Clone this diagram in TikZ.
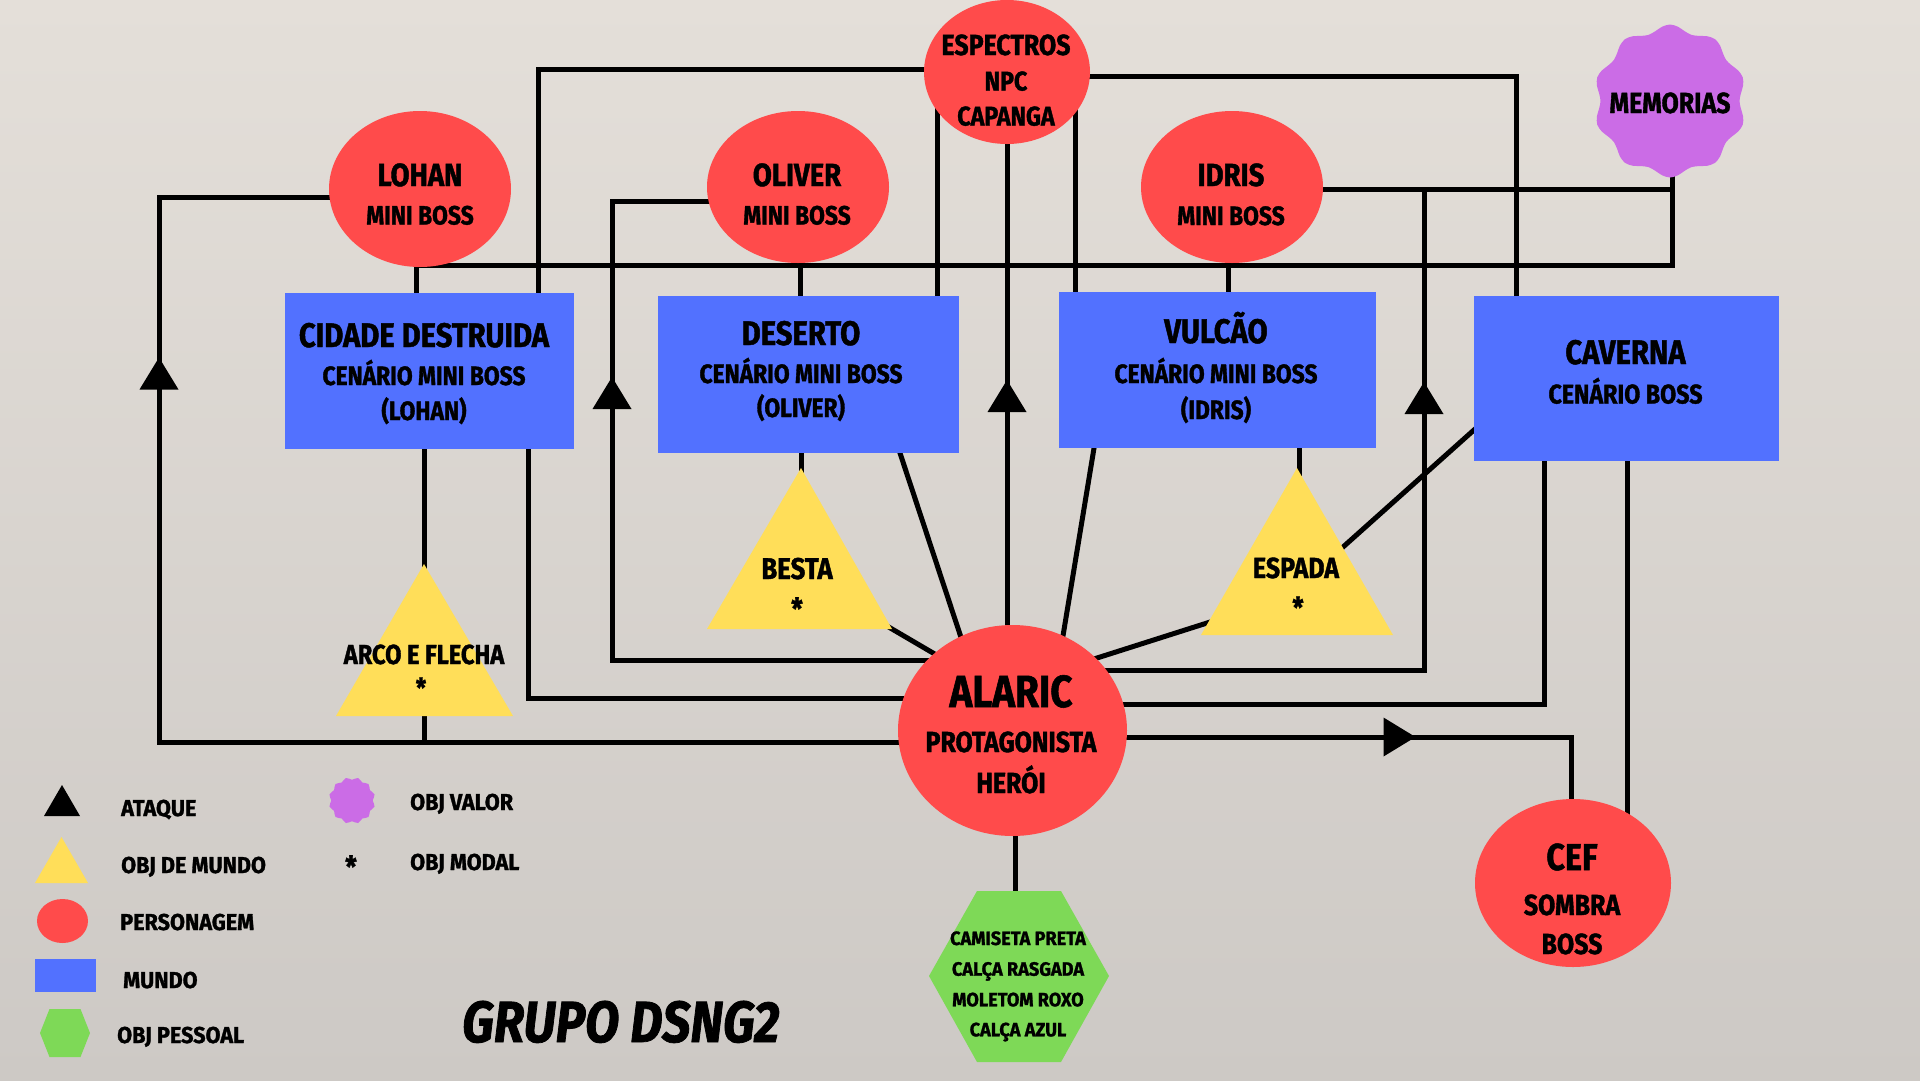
\documentclass[tikz,border=0pt]{standalone}
\usepackage{fontspec}
\setmainfont{Fira Sans}[FakeStretch=0.86,FakeBold=1.3]
\newfontfamily\fwide{Fira Sans}[FakeStretch=0.94,FakeBold=1.3]
\usetikzlibrary{arrows.meta,decorations.markings,shapes.geometric}
\definecolor{cred}{HTML}{FF4B4B}
\definecolor{cblue}{HTML}{5271FF}
\definecolor{cyellow}{HTML}{FFDE59}
\definecolor{cpurple}{HTML}{CB6CE6}
\definecolor{cgreen}{HTML}{7ED957}
\definecolor{bgtop}{HTML}{E4DFD9}
\definecolor{bgbot}{HTML}{CDC9C5}
\newcommand\myfs[1]{\fontsize{#1}{#1}\selectfont\bfseries}
\newcommand\tline[5]{\node[txt, font={\myfs{#4}}] (#1) at (#2,#3) {#5};}
\newcommand\wline[5]{\node[txt, font={\fwide\myfs{#4}}] (#1) at (#2,#3) {#5};}
\newcommand\lline[4]{\node[txt, anchor=base west, font={\fwide\myfs{23}}] (#1) at (#2,#3) {#4};}
\pgfdeclarelayer{back}
\pgfdeclarelayer{links}
\pgfsetlayers{back,links,main}
\begin{document}
\begin{tikzpicture}[x=1pt,y=-1pt,
  char/.style={ellipse, fill=cred, inner sep=0pt},
  world/.style={rectangle, fill=cblue, inner sep=0pt},
  objw/.style={fill=cyellow},
  txt/.style={inner sep=0pt, anchor=base, text=black},
  conn/.style={line width=5pt, draw=black},
  attack/.style={postaction={decorate}, decoration={markings,
     mark=at position #1 with {\arrow{Triangle[length=32pt,width=39pt,line width=0pt]}}}}]
\begin{pgfonlayer}{back}
\shade[top color=bgtop, bottom color=bgbot] (0,0) rectangle (1920,1080);
\end{pgfonlayer}
\useasboundingbox (0,0) rectangle (1920,1080);

% characters
\node[char, minimum width=182pt, minimum height=156pt] (lohan) at (420,189) {};
\node[char, minimum width=182pt, minimum height=152pt] (oliver) at (798,187) {};
\node[char, minimum width=182pt, minimum height=152pt] (idris) at (1232,187) {};
\node[char, minimum width=166pt, minimum height=144pt] (espectros) at (1007,72) {};
\node[char, minimum width=229pt, minimum height=211pt] (alaric) at (1012.5,730.5) {};
\node[char, minimum width=196pt, minimum height=168pt] (cef) at (1573,883) {};

% worlds
\node[world, minimum width=289pt, minimum height=156pt] (cidade) at (429.5,371) {};
\node[world, minimum width=301pt, minimum height=157pt] (deserto) at (808.5,374.5) {};
\node[world, minimum width=317pt, minimum height=156pt] (vulcao) at (1217.5,370) {};
\node[world, minimum width=305pt, minimum height=165pt] (caverna) at (1626.5,378.5) {};

% world objects
\coordinate (arco-apex) at (424,564); \coordinate (arco-l) at (336,716); \coordinate (arco-r) at (513,716);
\coordinate (besta-apex) at (801,468); \coordinate (besta-l) at (707,629); \coordinate (besta-r) at (892,629);
\coordinate (espada-apex) at (1297,468); \coordinate (espada-l) at (1201,635); \coordinate (espada-r) at (1393,635);
\coordinate (arco) at (424,660); \coordinate (besta) at (801,580); \coordinate (espada) at (1297,580);
\fill[objw] (arco-apex) -- (arco-r) -- (arco-l) -- cycle;
\fill[objw] (besta-apex) -- (besta-r) -- (besta-l) -- cycle;
\fill[objw] (espada-apex) -- (espada-r) -- (espada-l) -- cycle;

% personal object
\coordinate (hex) at (1019,976);
\fill[cgreen] (977,891) -- (1061,891) -- (1109,976) -- (1061,1062) -- (977,1062) -- (929,976) -- cycle;

% value object
\coordinate (memorias) at (1670,101);
\fill[cpurple, shift={(memorias)}] plot[smooth cycle, samples=60, domain=0:354] (\x:{73-3.5*cos(10*\x)});

% texts
\tline{lohan-1}{420}{186}{32}{LOHAN}
\tline{lohan-2}{420}{224.5}{26.5}{MINI BOSS}
\tline{oliver-1}{797}{186}{32}{OLIVER}
\tline{oliver-2}{797}{224.5}{26.5}{MINI BOSS}
\tline{idris-1}{1231}{186}{32}{IDRIS}
\tline{idris-2}{1231}{225}{26.5}{MINI BOSS}
\tline{esp-1}{1006}{55}{29}{ESPECTROS}
\tline{esp-2}{1006}{90.5}{27}{NPC}
\tline{esp-3}{1006}{125.5}{27}{CAPANGA}
\tline{mem-t}{1670}{113}{29}{MEMORIAS}
\tline{cid-1}{424}{347}{34}{CIDADE DESTRUIDA}
\tline{cid-2}{424}{385}{26.5}{CENÁRIO MINI BOSS}
\tline{cid-3}{424}{420}{26.5}{(LOHAN)}
\tline{des-1}{801}{345}{34}{DESERTO}
\tline{des-2}{801}{383}{26.5}{CENÁRIO MINI BOSS}
\tline{des-3}{801}{417}{26.5}{(OLIVER)}
\tline{vul-1}{1216}{343}{34}{VULCÃO}
\tline{vul-2}{1216}{383}{26.5}{CENÁRIO MINI BOSS}
\tline{vul-3}{1216}{419}{26.5}{(IDRIS)}
\tline{cav-1}{1625.5}{364}{34}{CAVERNA}
\tline{cav-2}{1625.5}{403.5}{27}{CENÁRIO BOSS}
\tline{ala-1}{1011}{707}{45}{ALARIC}
\tline{ala-2}{1011}{752}{29}{PROTAGONISTA}
\tline{ala-3}{1011}{793}{29}{HERÓI}
\tline{cef-1}{1572}{870}{37.5}{CEF}
\tline{cef-2}{1572}{915}{29}{SOMBRA}
\tline{cef-3}{1572}{954}{29}{BOSS}
\tline{besta-1}{797}{579}{30}{BESTA}
\tline{besta-2}{797}{619.5}{30}{*}
\tline{espada-1}{1296}{578}{29}{ESPADA}
\tline{espada-2}{1298}{618}{29}{*}
\tline{arco-1}{424}{664}{27.5}{ARCO E FLECHA}
\tline{arco-2}{421}{697.5}{27}{*}
\wline{hex-1}{1018}{945}{19.3}{CAMISETA PRETA}
\wline{hex-2}{1018}{975.7}{19.3}{CALÇA RASGADA}
\wline{hex-3}{1018}{1006.3}{19.3}{MOLETOM ROXO}
\wline{hex-4}{1018}{1036.3}{19.3}{CALÇA AZUL}

% legend
\fill (44,816) -- (80,816) -- (62,785) -- cycle;
\fill[cyellow] (35,883) -- (88,883) -- (61.5,837) -- cycle;
\fill[cred] (62.5,921) ellipse [x radius=25.5pt, y radius=22pt];
\fill[cblue] (35,959) rectangle (96,992);
\fill[cgreen] (40,1033) -- (49.5,1009) -- (80.5,1009) -- (90,1033) -- (80.5,1057) -- (49.5,1057) -- cycle;
\fill[cpurple, shift={(352,800.5)}] plot[smooth cycle, samples=48, domain=0:352.5] (\x:{22-1.3*cos(12*\x)});
\tline{leg-star}{351}{877.5}{30}{*}
\lline{leg-1}{121}{816}{ATAQUE}
\lline{leg-2}{121}{873}{OBJ DE MUNDO}
\lline{leg-3}{120}{930}{PERSONAGEM}
\lline{leg-4}{123}{988}{MUNDO}
\lline{leg-5}{117}{1043}{OBJ PESSOAL}
\lline{leg-6}{410}{810}{OBJ VALOR}
\lline{leg-7}{410}{870}{OBJ MODAL}
\node[txt, anchor=base west, font={\myfs{58}\itshape}] (grupo) at (462,1042) {GRUPO DSNG2};

% connectors
\begin{pgfonlayer}{links}
\draw[conn, attack=1238pt] (alaric |- 0,742) -- (159,742) -- (159,197) -- (lohan |- 0,197);
\draw[conn] (alaric |- 0,698) -- (528,698) -- (528,0 |- cidade);
\draw[conn, attack=683.5pt] (alaric |- 0,660) -- (612,660) -- (612,201) -- (oliver |- 0,201);
\draw[conn] (538,0 |- cidade) -- (538,69) -- (espectros |- 0,69);
\draw[conn] (1672,0 |- memorias) -- (1672,265) -- (416,265) -- (416,0 |- cidade);
\draw[conn] (416,0 |- lohan) -- (416,0 |- cidade);
\draw[conn] (800,0 |- oliver) -- (800,0 |- deserto);
\draw[conn] (1228,0 |- idris) -- (1228,0 |- vulcao);
\draw[conn] (937,0 |- espectros) -- (937,0 |- deserto);
\draw[conn] (1075,0 |- espectros) -- (1075,0 |- vulcao);
\draw[conn, attack=350.5pt] (1007,0 |- alaric) -- (1007,0 |- espectros);
\draw[conn] (espectros |- 0,76) -- (1516,76) -- (1516,0 |- caverna);
\draw[conn] (idris |- 0,189) -- (1672,189);
\draw[conn, attack=699.5pt] (alaric |- 0,670) -- (1424,670) -- (1424,192);
\draw[conn] (1544,0 |- caverna) -- (1544,704) -- (alaric |- 0,704);
\draw[conn] (1627,0 |- caverna) -- (1627,0 |- cef);
\draw[conn, attack=403pt] (alaric |- 0,737) -- (1571,737) -- (1571,0 |- cef);
\draw[conn] (1491.5,414.3) -- (1334.2,554.9);
\draw[conn] (1299,0 |- vulcao) -- (1299,0 |- espada);
\draw[conn] (801,0 |- deserto) -- (801,0 |- besta);
\draw[conn] (424,0 |- cidade) -- (424,742);
\draw[conn] (893.9,434.6) -- (970,664.6);
\draw[conn] (1097,430) -- (1059,660);
\draw[conn] (885.9,625.4) -- (953.5,665);
\draw[conn] (1218,619.5) -- (1086,661.5);
\draw[conn] (1015,0 |- alaric) -- (1015,0 |- hex);
\end{pgfonlayer}
\end{tikzpicture}
\end{document}
